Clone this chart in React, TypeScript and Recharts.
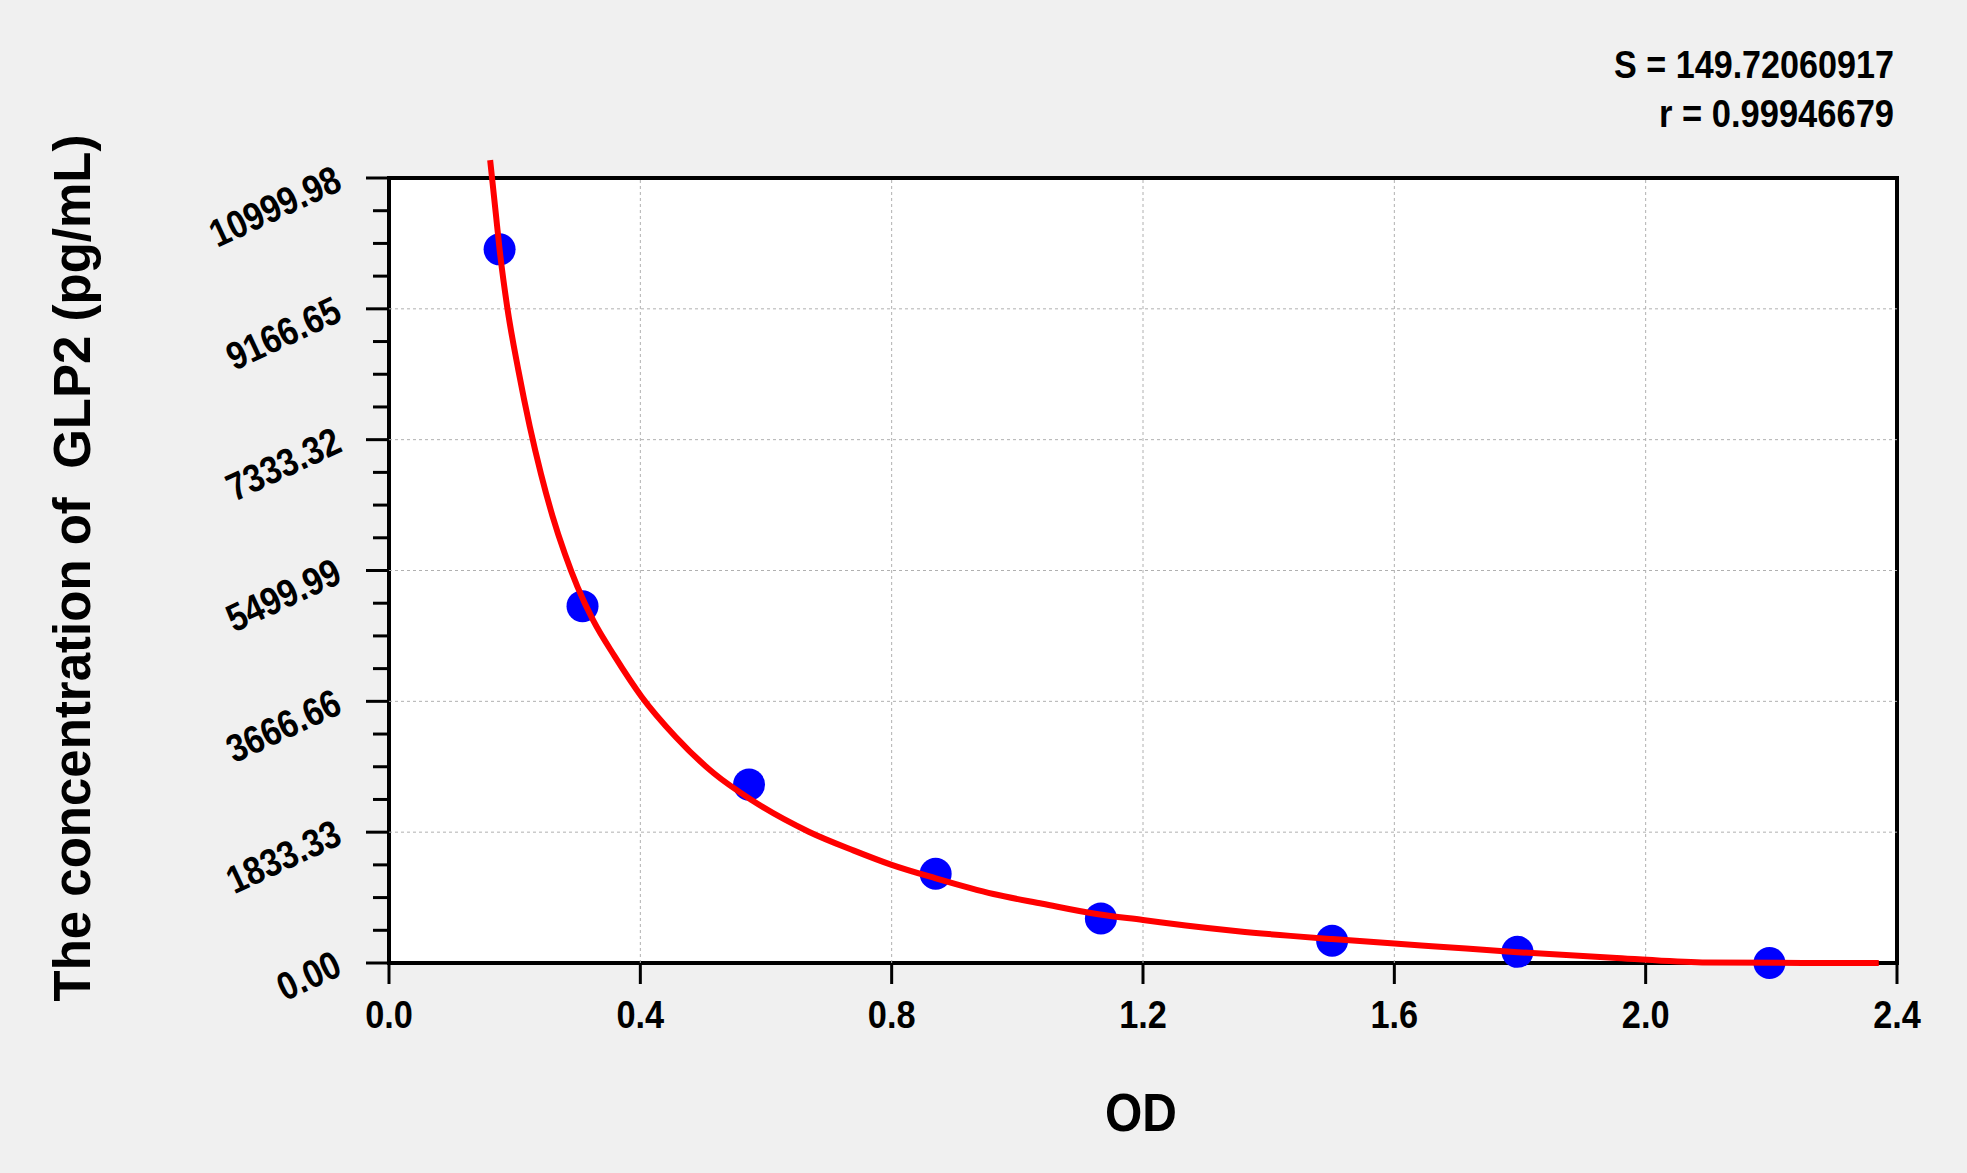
import { ComposedChart, XAxis, YAxis, Scatter, Line, ReferenceArea, ReferenceLine } from 'recharts';

// standards (OD vs concentration, pg/mL)
const standardOD = [0.176, 0.308, 0.573, 0.87, 1.133, 1.501, 1.796, 2.197];
const standardConc = [10000, 5000, 2500, 1250, 625, 312.5, 156.25, 0];

// fitted curve
const curveOD = [
  0.161, 0.17, 0.176, 0.188, 0.206, 0.224, 0.242, 0.26, 0.28, 0.3, 0.325, 0.359, 0.402, 0.456, 0.517, 0.577,
  0.668, 0.74, 0.8, 0.87, 0.962, 1.04, 1.129, 1.2, 1.268, 1.351, 1.435, 1.501, 1.6, 1.66, 1.796, 1.954, 2.09,
  2.25, 2.371,
];
const curveConc = [
  11250, 10500, 10000, 9200, 8300, 7520, 6850, 6270, 5730, 5270, 4800, 4300, 3732, 3171, 2658, 2284,
  1840, 1575, 1375, 1187, 967, 830, 682, 603, 525, 445, 380, 335, 272, 236, 152, 70, 8,
  0, 0,
];

const xTicks = [0, 0.4, 0.8, 1.2, 1.6, 2.0, 2.4];
const xMinorTicks = [0.1, 0.2, 0.3, 0.5, 0.6, 0.7, 0.9, 1.0, 1.1, 1.3, 1.4, 1.5, 1.7, 1.8, 1.9, 2.1, 2.2, 2.3];
const yTicks = [0, 1833.33, 3666.66, 5499.99, 7333.32, 9166.65, 10999.98];
const yMinorTicks = [
  458.33, 916.67, 1375.0, 2291.66, 2750.0, 3208.33, 4124.99, 4583.33, 5041.66, 5958.32, 6416.66, 6874.99,
  7791.65, 8249.99, 8708.32, 9624.98, 10083.32, 10541.65,
];

const xMax = 2.4;
const yMax = 10999.98;
// the fitted curve pokes out above the frame, so the value range runs up to its top
const yTop = 11250;

const statS = 'S = 149.72060917';
const statR = 'r = 0.99946679';

const standards = standardOD.map((od, i) => ({ od, conc: standardConc[i] }));
const curve = curveOD.map((od, i) => ({ od, conc: curveConc[i] }));

const FONT = '"Liberation Sans", Arial, sans-serif';
const W = 1967;
const H = 1173;
const PLOT_BOTTOM = 963;
const PLOT_FRAME_TOP = 178;
const marginTop = PLOT_BOTTOM - ((PLOT_BOTTOM - PLOT_FRAME_TOP) * yTop) / yMax;

// the original uses a narrow bold face, so squeeze the numbers a bit
const TICK_FONT = 39;
const numWidth = (s: string, squeeze: number) =>
  s.split('').reduce((w, c) => w + (c === '.' ? 0.278 : 0.556), 0) * TICK_FONT * squeeze;

const XTick = ({ x, y, payload }: any) => {
  const label = payload.value.toFixed(1);
  return (
    <g>
      <line x1={x} x2={x} y1={y} y2={y + 21} stroke="#000" strokeWidth={3} />
      <text
        x={x}
        y={y + 65}
        textAnchor="middle"
        fontFamily={FONT}
        fontWeight="bold"
        fontSize={TICK_FONT}
        fill="#000"
        textLength={numWidth(label, 0.88)}
        lengthAdjust="spacingAndGlyphs"
      >
        {label}
      </text>
    </g>
  );
};

const YTick = ({ x, y, payload }: any) => {
  const label = payload.value.toFixed(2);
  const tx = x - 45;
  const ty = y + 11;
  return (
    <g>
      <line x1={x} x2={x - 23} y1={y} y2={y} stroke="#000" strokeWidth={3} />
      <text
        x={tx}
        y={ty}
        transform={`rotate(-25 ${tx} ${ty})`}
        textAnchor="end"
        fontFamily={FONT}
        fontWeight="bold"
        fontSize={TICK_FONT}
        fill="#000"
        textLength={numWidth(label, 0.86)}
        lengthAdjust="spacingAndGlyphs"
      >
        {label}
      </text>
    </g>
  );
};

const XMinorTick = ({ x, y }: any) => <line x1={x} x2={x} y1={y - 1} y2={y + 13} stroke="#000" strokeWidth={3} />;
const YMinorTick = ({ x, y }: any) => <line x1={x + 1} x2={x - 15} y1={y} y2={y} stroke="#000" strokeWidth={3} />;

const gridX = xTicks.slice(1, -1);
const gridY = yTicks.slice(1, -1);

export default function App() {
  return (
    <div style={{ position: 'absolute', left: 0, top: 0, width: W, height: H, background: '#f0f0f0' }}>
      <ComposedChart width={W} height={H} margin={{ top: marginTop, right: 70, bottom: H - PLOT_BOTTOM - 2, left: 387 }}>
        <XAxis
          dataKey="od"
          type="number"
          domain={[0, xMax]}
          ticks={xTicks}
          interval={0}
          height={1}
          tickSize={0}
          tickMargin={0}
          axisLine={false}
          tickLine={false}
          tick={(p: any) => <XTick {...p} />}
        />
        <XAxis
          xAxisId="minor"
          type="number"
          domain={[0, xMax]}
          allowDataOverflow
          ticks={xMinorTicks}
          interval={0}
          height={1}
          tickSize={0}
          tickMargin={0}
          axisLine={false}
          tickLine={false}
          tick={(p: any) => <XMinorTick {...p} />}
        />
        <YAxis
          type="number"
          domain={[0, yTop]}
          ticks={yTicks}
          interval={0}
          width={1}
          tickSize={0}
          tickMargin={0}
          axisLine={false}
          tickLine={false}
          tick={(p: any) => <YTick {...p} />}
        />
        <YAxis
          yAxisId="minor"
          type="number"
          domain={[0, yTop]}
          allowDataOverflow
          ticks={yMinorTicks}
          interval={0}
          width={1}
          tickSize={0}
          tickMargin={0}
          axisLine={false}
          tickLine={false}
          tick={(p: any) => <YMinorTick {...p} />}
        />
        <ReferenceArea x1={0} x2={xMax} y1={0} y2={yMax} fill="#ffffff" fillOpacity={1} stroke="none" />
        {gridX.map((v) => (
          <ReferenceLine
            key={`gx${v}`}
            segment={[
              { x: v, y: 0 },
              { x: v, y: yMax },
            ]}
            stroke="#b0b0b0"
            strokeDasharray="3 3"
            strokeWidth={1}
          />
        ))}
        {gridY.map((v) => (
          <ReferenceLine
            key={`gy${v}`}
            segment={[
              { x: 0, y: v },
              { x: xMax, y: v },
            ]}
            stroke="#b0b0b0"
            strokeDasharray="3 3"
            strokeWidth={1}
          />
        ))}
        <ReferenceArea x1={0} x2={xMax} y1={0} y2={yMax} fill="none" stroke="#000" strokeWidth={4} />
        <Scatter
          data={standards}
          dataKey="conc"
          isAnimationActive={false}
          zIndex={600}
          shape={(p: any) => <circle cx={p.cx} cy={p.cy} r={16} fill="#0000ff" />}
        />
        <Line
          data={curve}
          dataKey="conc"
          type="monotone"
          stroke="#ff0000"
          strokeWidth={6}
          dot={false}
          activeDot={false}
          isAnimationActive={false}
          zIndex={700}
        />
      </ComposedChart>
      <svg
        width={W}
        height={H}
        style={{ position: 'absolute', left: 0, top: 0, pointerEvents: 'none' }}
        fontFamily={FONT}
        fontWeight="bold"
        fill="#000"
      >
        <text x={1894} y={78} textAnchor="end" fontSize={39} textLength={280} lengthAdjust="spacingAndGlyphs">
          {statS}
        </text>
        <text x={1894} y={127} textAnchor="end" fontSize={39} textLength={235} lengthAdjust="spacingAndGlyphs">
          {statR}
        </text>
        <text x={1141} y={1131} textAnchor="middle" fontSize={53} textLength={72} lengthAdjust="spacingAndGlyphs">
          OD
        </text>
        <text x={90} y={568} transform="rotate(-90 90 568)" textAnchor="middle" fontSize={51} xmlSpace="preserve">
          The concentration of  GLP2 (pg/mL)
        </text>
      </svg>
    </div>
  );
}
